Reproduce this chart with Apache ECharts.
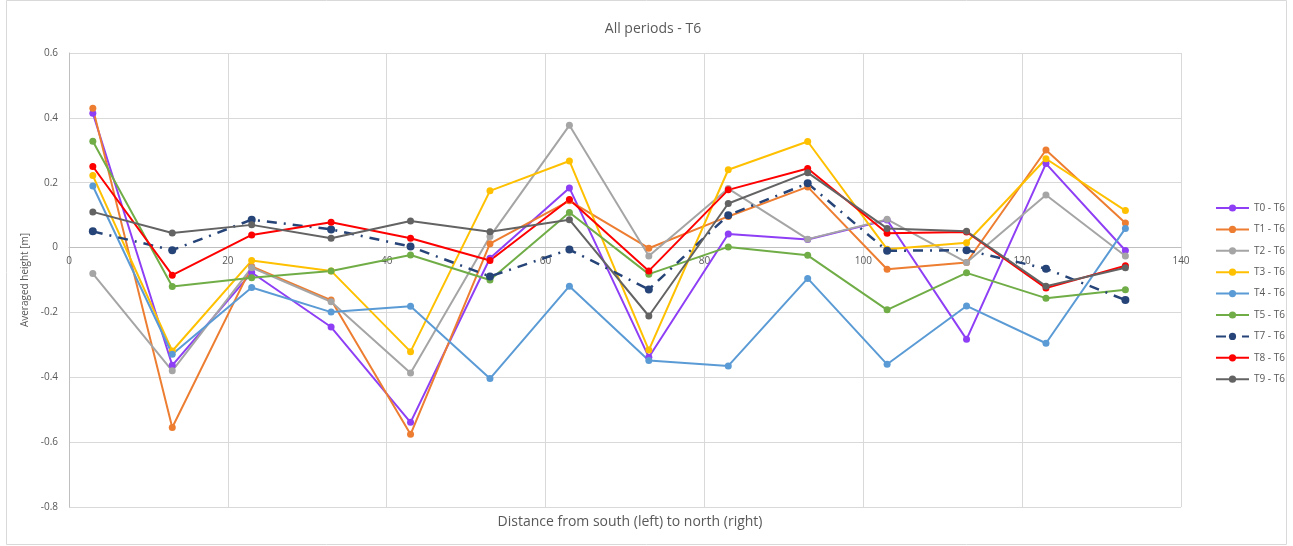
<!DOCTYPE html>
<html>
<head>
<meta charset="utf-8">
<script src="https://cdn.jsdelivr.net/npm/echarts@6/dist/echarts.min.js"></script>
<style>
  html, body { margin: 0; padding: 0; background: #fff; }
  #chart { width: 1293px; height: 546px; }
</style>
</head>
<body>
<div id="chart"></div>
<script>
const distances = [3, 13, 23, 33, 43, 53, 63, 73, 83, 93, 103, 113, 123, 133];

const t0 = [0.414, -0.363, -0.077, -0.245, -0.539, -0.033, 0.184, -0.338, 0.042, 0.025, 0.085, -0.283, 0.259, -0.009];
const t1 = [0.430, -0.555, -0.058, -0.162, -0.576, 0.012, 0.144, -0.002, 0.096, 0.187, -0.067, -0.046, 0.301, 0.076];
const t2 = [-0.080, -0.380, -0.062, -0.167, -0.387, 0.034, 0.377, -0.026, 0.182, 0.026, 0.087, -0.046, 0.162, -0.026];
const t3 = [0.222, -0.319, -0.040, -0.072, -0.321, 0.175, 0.267, -0.316, 0.240, 0.327, -0.005, 0.015, 0.274, 0.114];
const t4 = [0.190, -0.329, -0.123, -0.199, -0.181, -0.404, -0.119, -0.348, -0.365, -0.095, -0.360, -0.180, -0.295, 0.059];
const t5 = [0.328, -0.120, -0.093, -0.072, -0.023, -0.100, 0.108, -0.082, 0.002, -0.024, -0.192, -0.078, -0.156, -0.130];
const t7 = [0.050, -0.008, 0.086, 0.056, 0.003, -0.089, -0.006, -0.129, 0.100, 0.198, -0.010, -0.008, -0.065, -0.162];
const t8 = [0.250, -0.085, 0.039, 0.078, 0.029, -0.040, 0.148, -0.072, 0.178, 0.244, 0.044, 0.048, -0.125, -0.056];
const t9 = [0.110, 0.045, 0.070, 0.029, 0.082, 0.049, 0.086, -0.211, 0.136, 0.231, 0.059, 0.050, -0.119, -0.062];

const seriesDefs = [
  ["T0 - T6", t0, "#8e3ff5"],
  ["T1 - T6", t1, "#ed7d31"],
  ["T2 - T6", t2, "#a5a5a5"],
  ["T3 - T6", t3, "#ffc000"],
  ["T4 - T6", t4, "#5b9bd5"],
  ["T5 - T6", t5, "#70ad47"],
  ["T7 - T6", t7, "#264478"],
  ["T8 - T6", t8, "#ff0000"],
  ["T9 - T6", t9, "#636363"],
];

const textColor = "#595959";
const gridColor = "#d9d9d9";

const yMin = -0.8;
const yMax = 0.6;
const gridBox = { left: 69, right: 112, top: 53, bottom: 39 };
const chartHeight = 546;

// x axis sits on y = 0, like the original Excel chart
function zeroOffset() {
  const plotHeight = chartHeight - gridBox.top - gridBox.bottom;
  return -plotHeight * (0 - yMin) / (yMax - yMin);
}

function buildSeries() {
  return seriesDefs.map(([name, values, color]) => {
    const dashed = name === "T7 - T6";
    return {
      name,
      type: "line",
      data: values.map((v, i) => [distances[i], v]),
      symbol: "circle",
      symbolSize: dashed ? 8 : 7,
      color,
      lineStyle: {
        width: dashed ? 2.5 : 2,
        color,
        type: dashed ? [10, 7, 2, 7] : "solid",
      },
      itemStyle: { color },
      emphasis: { disabled: true },
    };
  });
}

const chart = echarts.init(document.getElementById("chart"));
chart.setOption({
  animation: false,
  title: [
    {
      text: "All periods - T6",
      left: 648,
      top: 17,
      textAlign: "center",
      textStyle: { fontFamily: "Open Sans", fontSize: 14, fontWeight: "normal", color: textColor },
    },
    {
      text: "Distance from south (left) to north (right)",
      left: 625,
      top: 510,
      textAlign: "center",
      textStyle: { fontFamily: "Open Sans", fontSize: 14, fontWeight: "normal", color: textColor },
    },
  ],
  graphic: [
    {
      type: "rect",
      shape: { x: 6.5, y: 0.5, width: 1280, height: 544 },
      style: { fill: "none", stroke: "#d9d9d9", lineWidth: 1 },
      silent: true,
    },
  ],
  legend: {
    orient: "vertical",
    left: 1210,
    top: 198,
    itemWidth: 33,
    itemHeight: 9,
    itemGap: 11.4,
    textStyle: { fontFamily: "Open Sans", fontSize: 10, color: textColor },
    data: seriesDefs.map((d) => d[0]),
  },
  grid: { ...gridBox, containLabel: false },
  xAxis: {
    type: "value",
    min: 0,
    max: 140,
    interval: 20,
    offset: zeroOffset(),
    axisLine: { show: true, onZero: false, lineStyle: { color: "#bfbfbf", width: 1 } },
    axisTick: { show: false },
    axisLabel: { fontFamily: "Open Sans", fontSize: 10, color: textColor, margin: 9 },
    splitLine: { show: true, lineStyle: { color: gridColor } },
  },
  yAxis: {
    type: "value",
    min: yMin,
    max: yMax,
    interval: 0.2,
    name: "Averaged height [m]",
    nameLocation: "middle",
    nameGap: 27,
    nameTextStyle: { fontFamily: "Open Sans", fontSize: 10, color: textColor },
    axisLine: { show: true, onZero: false, lineStyle: { color: "#bfbfbf" } },
    axisTick: { show: false },
    axisLabel: {
      fontFamily: "Open Sans",
      fontSize: 10,
      color: textColor,
      margin: 11,
      formatter: (v) => String(Math.round(v * 10) / 10),
    },
    splitLine: { show: true, lineStyle: { color: gridColor } },
  },
  series: buildSeries(),
});
</script>
</body>
</html>
